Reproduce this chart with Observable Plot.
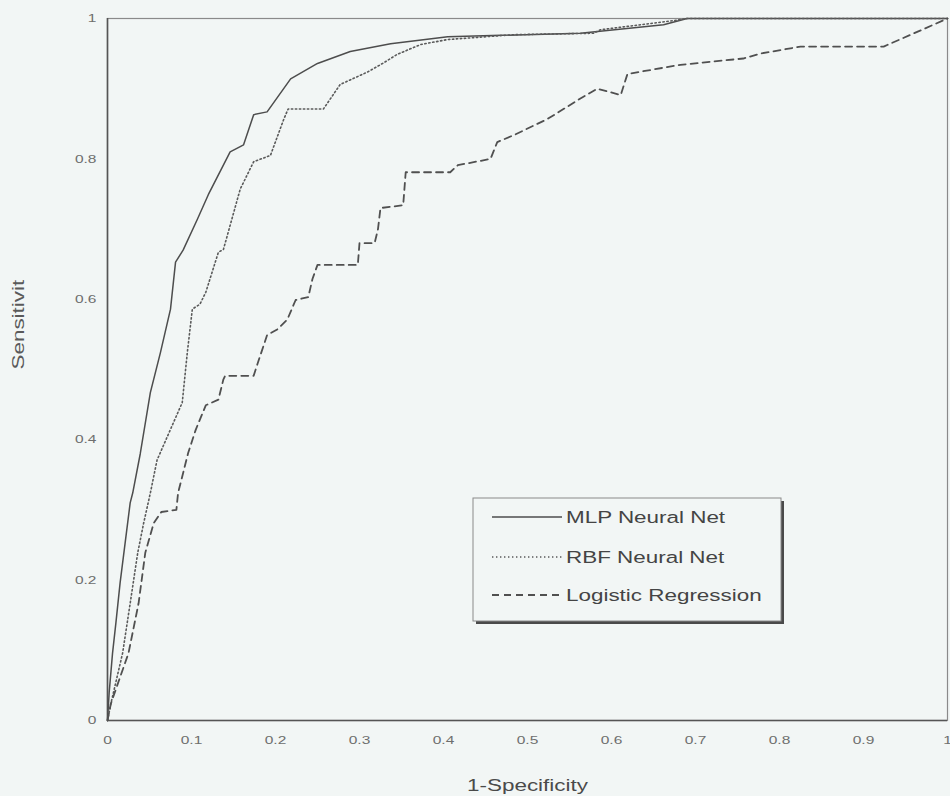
<!DOCTYPE html>
<html>
<head>
<meta charset="utf-8">
<script src="https://cdn.jsdelivr.net/npm/d3@7"></script>
<script src="https://cdn.jsdelivr.net/npm/@observablehq/plot@0.6"></script>
<style>
  html, body { margin: 0; padding: 0; background: #f2f6f5; }
  #chart { width: 950px; height: 796px; }
</style>
</head>
<body>
<div id="chart"></div>
<script>
// ---- data ----
const seriesNames = ["MLP Neural Net", "RBF Neural Net", "Logistic Regression"];

const mlpX = [0, 0.002, 0.006, 0.010, 0.015, 0.021, 0.027, 0.030, 0.039, 0.051, 0.063, 0.075, 0.081, 0.090, 0.107, 0.120, 0.146, 0.162, 0.174, 0.190, 0.218, 0.250, 0.289, 0.337, 0.405, 0.563, 0.662, 0.690, 1];
const mlpY = [0, 0.040, 0.096, 0.139, 0.196, 0.253, 0.310, 0.324, 0.380, 0.467, 0.524, 0.586, 0.653, 0.670, 0.714, 0.749, 0.810, 0.820, 0.863, 0.867, 0.914, 0.936, 0.953, 0.964, 0.974, 0.979, 0.991, 1, 1];

const rbfX = [0, 0.004, 0.018, 0.027, 0.036, 0.043, 0.051, 0.059, 0.089, 0.095, 0.101, 0.110, 0.117, 0.132, 0.138, 0.158, 0.174, 0.194, 0.210, 0.215, 0.257, 0.277, 0.310, 0.329, 0.345, 0.373, 0.405, 0.484, 0.579, 0.587, 0.674, 0.690, 1];
const rbfY = [0, 0.024, 0.096, 0.167, 0.239, 0.281, 0.324, 0.371, 0.453, 0.524, 0.586, 0.593, 0.610, 0.667, 0.671, 0.757, 0.796, 0.805, 0.857, 0.871, 0.871, 0.906, 0.924, 0.937, 0.949, 0.963, 0.970, 0.977, 0.979, 0.984, 0.997, 1, 1];

const lrX = [0, 0.004, 0.025, 0.037, 0.045, 0.055, 0.064, 0.082, 0.084, 0.096, 0.105, 0.117, 0.132, 0.138, 0.140, 0.174, 0.178, 0.190, 0.202, 0.214, 0.224, 0.239, 0.244, 0.250, 0.298, 0.300, 0.318, 0.322, 0.325, 0.352, 0.355, 0.408, 0.417, 0.456, 0.464, 0.484, 0.524, 0.563, 0.583, 0.611, 0.619, 0.682, 0.757, 0.777, 0.825, 0.924, 0.983, 1];
const lrY = [0, 0.024, 0.096, 0.167, 0.239, 0.281, 0.297, 0.300, 0.324, 0.381, 0.414, 0.449, 0.457, 0.486, 0.491, 0.491, 0.506, 0.549, 0.557, 0.571, 0.599, 0.603, 0.629, 0.649, 0.649, 0.680, 0.680, 0.700, 0.730, 0.734, 0.781, 0.781, 0.791, 0.800, 0.824, 0.834, 0.857, 0.886, 0.900, 0.891, 0.921, 0.934, 0.943, 0.950, 0.960, 0.960, 0.991, 1];

const xTicks = [0, 0.1, 0.2, 0.3, 0.4, 0.5, 0.6, 0.7, 0.8, 0.9, 1];
const xTickLabels = ["0", "0.1", "0.2", "0.3", "0.4", "0.5", "0.6", "0.7", "0.8", "0.9", "1"];
const yTicks = [0, 0.2, 0.4, 0.6, 0.8, 1];
const yTickLabels = ["0", "0.2", "0.4", "0.6", "0.8", "1"];
const xTitle = "1-Specificity";
const yTitle = "Sensitivit";

// ---- build ----
const toRows = (xs, ys) => xs.map((x, i) => ({x, y: ys[i]}));
const mlp = toRows(mlpX, mlpY);
const rbf = toRows(rbfX, rbfY);
const lr = toRows(lrX, lrY);

const styles = [
  {stroke: "#4d4d4d", strokeWidth: 1.5, dash: null},
  {stroke: "#5a5a5a", strokeWidth: 1.6, dash: "1.4,2.6"},
  {stroke: "#505050", strokeWidth: 1.8, dash: "7,5"}
];
const BG = "#f2f6f5";
const FONT = "'Liberation Sans', Arial, Helvetica, sans-serif";

const chart = Plot.plot({
  width: 950,
  height: 796,
  marginLeft: 107,
  marginRight: 3,
  marginTop: 18,
  marginBottom: 76,
  style: {background: BG, fontFamily: FONT, color: "#6a6a6a", overflow: "visible"},
  x: {domain: [0, 1]},
  y: {domain: [0, 1]},
  marks: [
    Plot.frame({stroke: "#8a8a8a", strokeWidth: 1.2}),
    Plot.ruleX([0], {stroke: "#555", strokeWidth: 1.6}),
    Plot.ruleY([0], {stroke: "#555", strokeWidth: 1.6}),
    Plot.line(mlp, {x: "x", y: "y", stroke: styles[0].stroke, strokeWidth: styles[0].strokeWidth}),
    Plot.line(rbf, {x: "x", y: "y", stroke: styles[1].stroke, strokeWidth: styles[1].strokeWidth, strokeDasharray: styles[1].dash}),
    Plot.line(lr, {x: "x", y: "y", stroke: styles[2].stroke, strokeWidth: styles[2].strokeWidth, strokeDasharray: styles[2].dash}),
    Plot.axisX({ticks: xTicks, tickFormat: (d) => xTickLabels[xTicks.indexOf(d)], tickSize: 0, tickPadding: 15, fontSize: 11.5, label: null, fill: "#6e6e6e"}),
    Plot.axisY({ticks: yTicks, tickFormat: (d) => yTickLabels[yTicks.indexOf(d)], tickSize: 0, tickPadding: 11, fontSize: 11.5, label: null, fill: "#6e6e6e"}),
    Plot.text([xTitle], {text: d => d, frameAnchor: "bottom", lineAnchor: "middle", dy: 65, fontSize: 17, fill: "#4a4a4a"}),
    Plot.text([yTitle], {text: d => d, frameAnchor: "left", lineAnchor: "middle", dx: -89, rotate: -90, fontSize: 17, fill: "#5a5a5a"})
  ]
});

const svg = d3.select(chart);
// Horizontal stretch of the (scanned) lettering
svg.selectAll("text").each(function() {
  const t = d3.select(this);
  const tr = t.attr("transform") || "";
  const fs = +(t.attr("font-size") || d3.select(this.parentNode).attr("font-size") || 0);
  t.attr("transform", tr + (fs >= 17 ? " scale(1.32,1)" : " scale(1.35,1)"));
});

// ---- legend ----
const lg = svg.append("g").attr("font-family", FONT).attr("text-anchor", "start");
const box = {x: 473, y: 498, w: 308, h: 123};
lg.append("rect").attr("x", box.x + 3).attr("y", box.y + 3).attr("width", box.w).attr("height", box.h).attr("fill", "#4a4a4a");
lg.append("rect").attr("x", box.x).attr("y", box.y).attr("width", box.w).attr("height", box.h)
  .attr("fill", BG).attr("stroke", "#8a8a8a").attr("stroke-width", 1);
const rowY = [517, 557, 595];
seriesNames.forEach((name, i) => {
  const s = styles[i];
  lg.append("line").attr("x1", 492).attr("x2", 562).attr("y1", rowY[i]).attr("y2", rowY[i])
    .attr("stroke", s.stroke).attr("stroke-width", s.strokeWidth)
    .attr("stroke-dasharray", s.dash);
  lg.append("text").attr("transform", `translate(566,${rowY[i]}) scale(1.32,1)`)
    .attr("text-anchor", "start")
    .attr("dy", "0.35em").attr("font-size", 17).attr("fill", "#444").text(name);
});

document.getElementById("chart").appendChild(chart);
</script>
</body>
</html>
